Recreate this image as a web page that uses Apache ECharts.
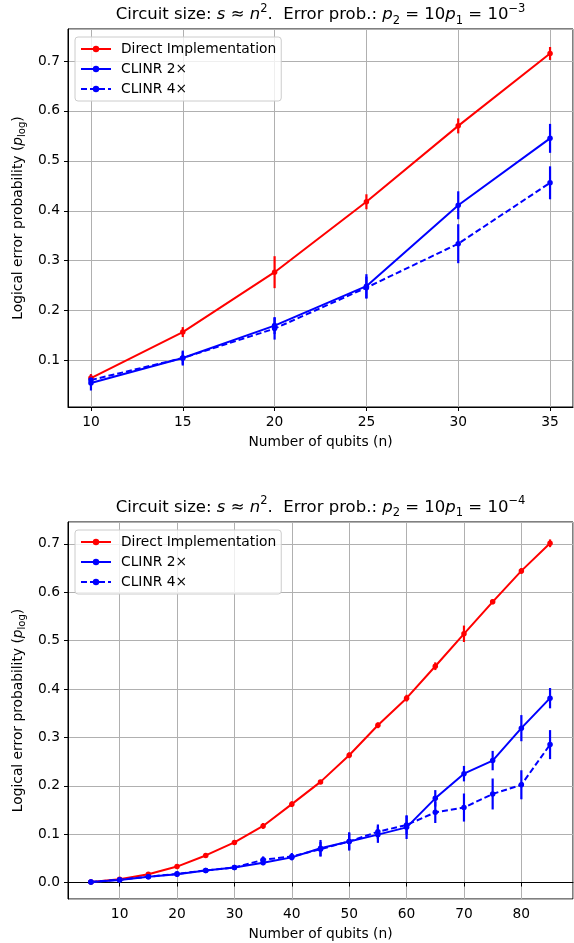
<!DOCTYPE html>
<html>
<head>
<meta charset="utf-8">
<script src="https://cdn.jsdelivr.net/npm/echarts@6/dist/echarts.min.js"></script>
<style>
    html, body { margin: 0; padding: 0; background: #fff; }
    #main { width: 574px; height: 943px; }
</style>
</head>
<body>
<div id="main"></div>
<script>
// data
var nTop = [10, 15, 20, 25, 30, 35];
var directTop = [0.065, 0.157, 0.277, 0.418, 0.570, 0.715];
var directTopErr = [0.008, 0.010, 0.032, 0.015, 0.015, 0.013];
var clinr2Top = [0.055, 0.105, 0.170, 0.249, 0.411, 0.545];
var clinr2TopErr = [0.015, 0.015, 0.017, 0.024, 0.028, 0.029];
var clinr4Top = [0.061, 0.105, 0.164, 0.246, 0.334, 0.456];
var clinr4TopErr = [0.010, 0.013, 0.022, 0.022, 0.039, 0.033];

var nBot = [5, 10, 15, 20, 25, 30, 35, 40, 45, 50, 55, 60, 65, 70, 75, 80, 85];
var directBot = [0.001, 0.007, 0.017, 0.033, 0.056, 0.083, 0.117, 0.162, 0.208, 0.263, 0.325, 0.381, 0.447, 0.514, 0.580, 0.644, 0.701];
var directBotErr = [0.002, 0.002, 0.003, 0.003, 0.004, 0.005, 0.006, 0.006, 0.004, 0.006, 0.006, 0.007, 0.008, 0.017, 0.005, 0.006, 0.008];
var clinr2Bot = [0.001, 0.0055, 0.012, 0.017, 0.025, 0.031, 0.041, 0.052, 0.071, 0.085, 0.099, 0.114, 0.174, 0.225, 0.252, 0.319, 0.381];
var clinr2BotErr = [0.002, 0.003, 0.004, 0.005, 0.005, 0.004, 0.005, 0.006, 0.017, 0.019, 0.017, 0.024, 0.017, 0.016, 0.020, 0.027, 0.021];
var clinr4Bot = [0.001, 0.006, 0.012, 0.018, 0.025, 0.031, 0.047, 0.054, 0.069, 0.085, 0.105, 0.119, 0.145, 0.155, 0.183, 0.202, 0.285];
var clinr4BotErr = [0.002, 0.003, 0.004, 0.004, 0.005, 0.005, 0.007, 0.007, 0.015, 0.017, 0.015, 0.020, 0.022, 0.029, 0.032, 0.030, 0.030];

var legendNames = ['Direct Implementation', 'CLINR 2\u00d7', 'CLINR 4\u00d7'];
var FONT = 'DejaVu Sans';
var FS = 13.8;
var RED = '#ff0000';
var BLUE = '#0000ff';

var myChart = echarts.init(document.getElementById('main'));

function pairs(xs, ys) {
    return xs.map(function (x, i) { return [x, ys[i]]; });
}
function bars(xs, ys, es) {
    return xs.map(function (x, i) { return [x, ys[i] - es[i], ys[i] + es[i]]; });
}

// vertical error bar
function errRender(params, api) {
    var lo = api.coord([api.value(0), api.value(1)]);
    var hi = api.coord([api.value(0), api.value(2)]);
    return {
        type: 'line',
        shape: { x1: lo[0], y1: lo[1], x2: hi[0], y2: hi[1] },
        style: { stroke: api.visual('color'), lineWidth: 2.2 }
    };
}

function lineSeries(name, idx, xs, ys, color, dashed) {
    return {
        name: name,
        type: 'line',
        xAxisIndex: idx,
        yAxisIndex: idx,
        data: pairs(xs, ys),
        symbol: 'circle',
        symbolSize: 5.5,
        color: color,
        lineStyle: { width: 2, color: color, type: dashed ? [6, 3] : 'solid' },
        itemStyle: { color: color },
        animation: false
    };
}

function errSeries(idx, xs, ys, es, color) {
    return {
        name: 'err' + idx + color,
        type: 'custom',
        xAxisIndex: idx,
        yAxisIndex: idx,
        data: bars(xs, ys, es),
        color: color,
        renderItem: errRender,
        encode: { x: 0, y: [1, 2] },
        animation: false
    };
}

function xAxisCfg(idx, min, max, step) {
    return {
        type: 'value',
        gridIndex: idx,
        min: min,
        max: max,
        minInterval: step,
        maxInterval: step,
        name: 'Number of qubits (n)',
        nameLocation: 'middle',
        nameGap: 28,
        nameTextStyle: { fontFamily: FONT, fontSize: FS, color: '#000' },
        axisLine: { show: true, lineStyle: { color: '#000', width: 1 } },
        axisTick: { show: true, length: 4, lineStyle: { color: '#000' } },
        axisLabel: {
            margin: 8,
            fontFamily: FONT, fontSize: FS, color: '#000',
            showMinLabel: false, showMaxLabel: false,
            formatter: function (v) { return v % step === 0 ? String(v) : ''; }
        },
        splitLine: { show: true, lineStyle: { color: '#b0b0b0', width: 1 } }
    };
}

function yAxisCfg(idx, min, max) {
    return {
        type: 'value',
        gridIndex: idx,
        min: min,
        max: max,
        minInterval: 0.1,
        maxInterval: 0.1,
        name: 'Logical error probability ({i|p}{sub|log})',
        nameLocation: 'middle',
        nameRotate: 90,
        nameGap: 41,
        nameTextStyle: {
            fontFamily: FONT, fontSize: FS, color: '#000',
            rich: {
                i: { fontFamily: FONT, fontStyle: 'italic', fontSize: FS, color: '#000', lineHeight: 17 },
                sub: { fontFamily: FONT, fontSize: 10, color: '#000', lineHeight: 11, verticalAlign: 'bottom' }
            }
        },
        axisLine: { show: true, lineStyle: { color: '#000', width: 1 } },
        axisTick: { show: true, length: 4, lineStyle: { color: '#000' } },
        axisLabel: {
            margin: 8,
            fontFamily: FONT, fontSize: FS, color: '#000',
            showMinLabel: false, showMaxLabel: false,
            formatter: function (v) {
                var k = Math.round(v * 10);
                return Math.abs(v * 10 - k) < 1e-6 ? (k / 10).toFixed(1) : '';
            }
        },
        splitLine: { show: true, lineStyle: { color: '#b0b0b0', width: 1 } }
    };
}

function titleText(y, expo) {
    return {
        type: 'text',
        x: 320.5,
        y: y,
        style: {
            text: 'Circuit size: {i|s} \u2248 {i|n}{sup|2}.  Error prob.: {i|p}{sub|2} = 10{i|p}{sub|1} = 10{sup|' + expo + '}',
            align: 'center',
            verticalAlign: 'middle',
            fontFamily: FONT,
            fontSize: 16.5,
            fill: '#000',
            rich: {
                i: { fontFamily: FONT, fontStyle: 'italic', fontSize: 16.5, fill: '#000', lineHeight: 24 },
                sup: { fontFamily: FONT, fontSize: 11.5, fill: '#000', lineHeight: 13, verticalAlign: 'top' },
                sub: { fontFamily: FONT, fontSize: 11.5, fill: '#000', lineHeight: 13, verticalAlign: 'bottom' }
            }
        }
    };
}

function legendCfg(idx, top) {
    return {
        data: legendNames,
        orient: 'vertical',
        left: 75,
        top: top,
        padding: [5, 5, 5, 5],
        itemWidth: 30,
        itemHeight: 8,
        itemGap: 6,
        backgroundColor: 'rgba(255,255,255,0.8)',
        borderColor: '#cccccc',
        borderWidth: 1,
        borderRadius: 3,
        textStyle: { fontFamily: FONT, fontSize: FS, color: '#000', padding: [0, 0, 0, 5] },
        selectedMode: false
    };
}

var option = {
    backgroundColor: '#fff',
    animation: false,
    graphic: [titleText(15, '\u22123'), titleText(507.5, '\u22124')],
    legend: [legendCfg(0, 37), legendCfg(1, 530)],
    grid: [
        { left: 68, top: 29, width: 505, height: 378, show: true, borderColor: '#000', borderWidth: 1, backgroundColor: 'transparent' },
        { left: 68, top: 522, width: 505, height: 377, show: true, borderColor: '#000', borderWidth: 1, backgroundColor: 'transparent' }
    ],
    xAxis: [xAxisCfg(0, 8.75, 36.25, 5), xAxisCfg(1, 1, 89, 10)],
    yAxis: [yAxisCfg(0, 0.007, 0.764), yAxisCfg(1, -0.034, 0.745)],
    series: [
        lineSeries(legendNames[0], 0, nTop, directTop, RED, false),
        errSeries(0, nTop, directTop, directTopErr, RED),
        lineSeries(legendNames[1], 0, nTop, clinr2Top, BLUE, false),
        errSeries(0, nTop, clinr2Top, clinr2TopErr, BLUE),
        lineSeries(legendNames[2], 0, nTop, clinr4Top, BLUE, true),
        errSeries(0, nTop, clinr4Top, clinr4TopErr, BLUE),

        lineSeries(legendNames[0], 1, nBot, directBot, RED, false),
        errSeries(1, nBot, directBot, directBotErr, RED),
        lineSeries(legendNames[1], 1, nBot, clinr2Bot, BLUE, false),
        errSeries(1, nBot, clinr2Bot, clinr2BotErr, BLUE),
        lineSeries(legendNames[2], 1, nBot, clinr4Bot, BLUE, true),
        errSeries(1, nBot, clinr4Bot, clinr4BotErr, BLUE)
    ]
};
myChart.setOption(option);
</script>
</body>
</html>
